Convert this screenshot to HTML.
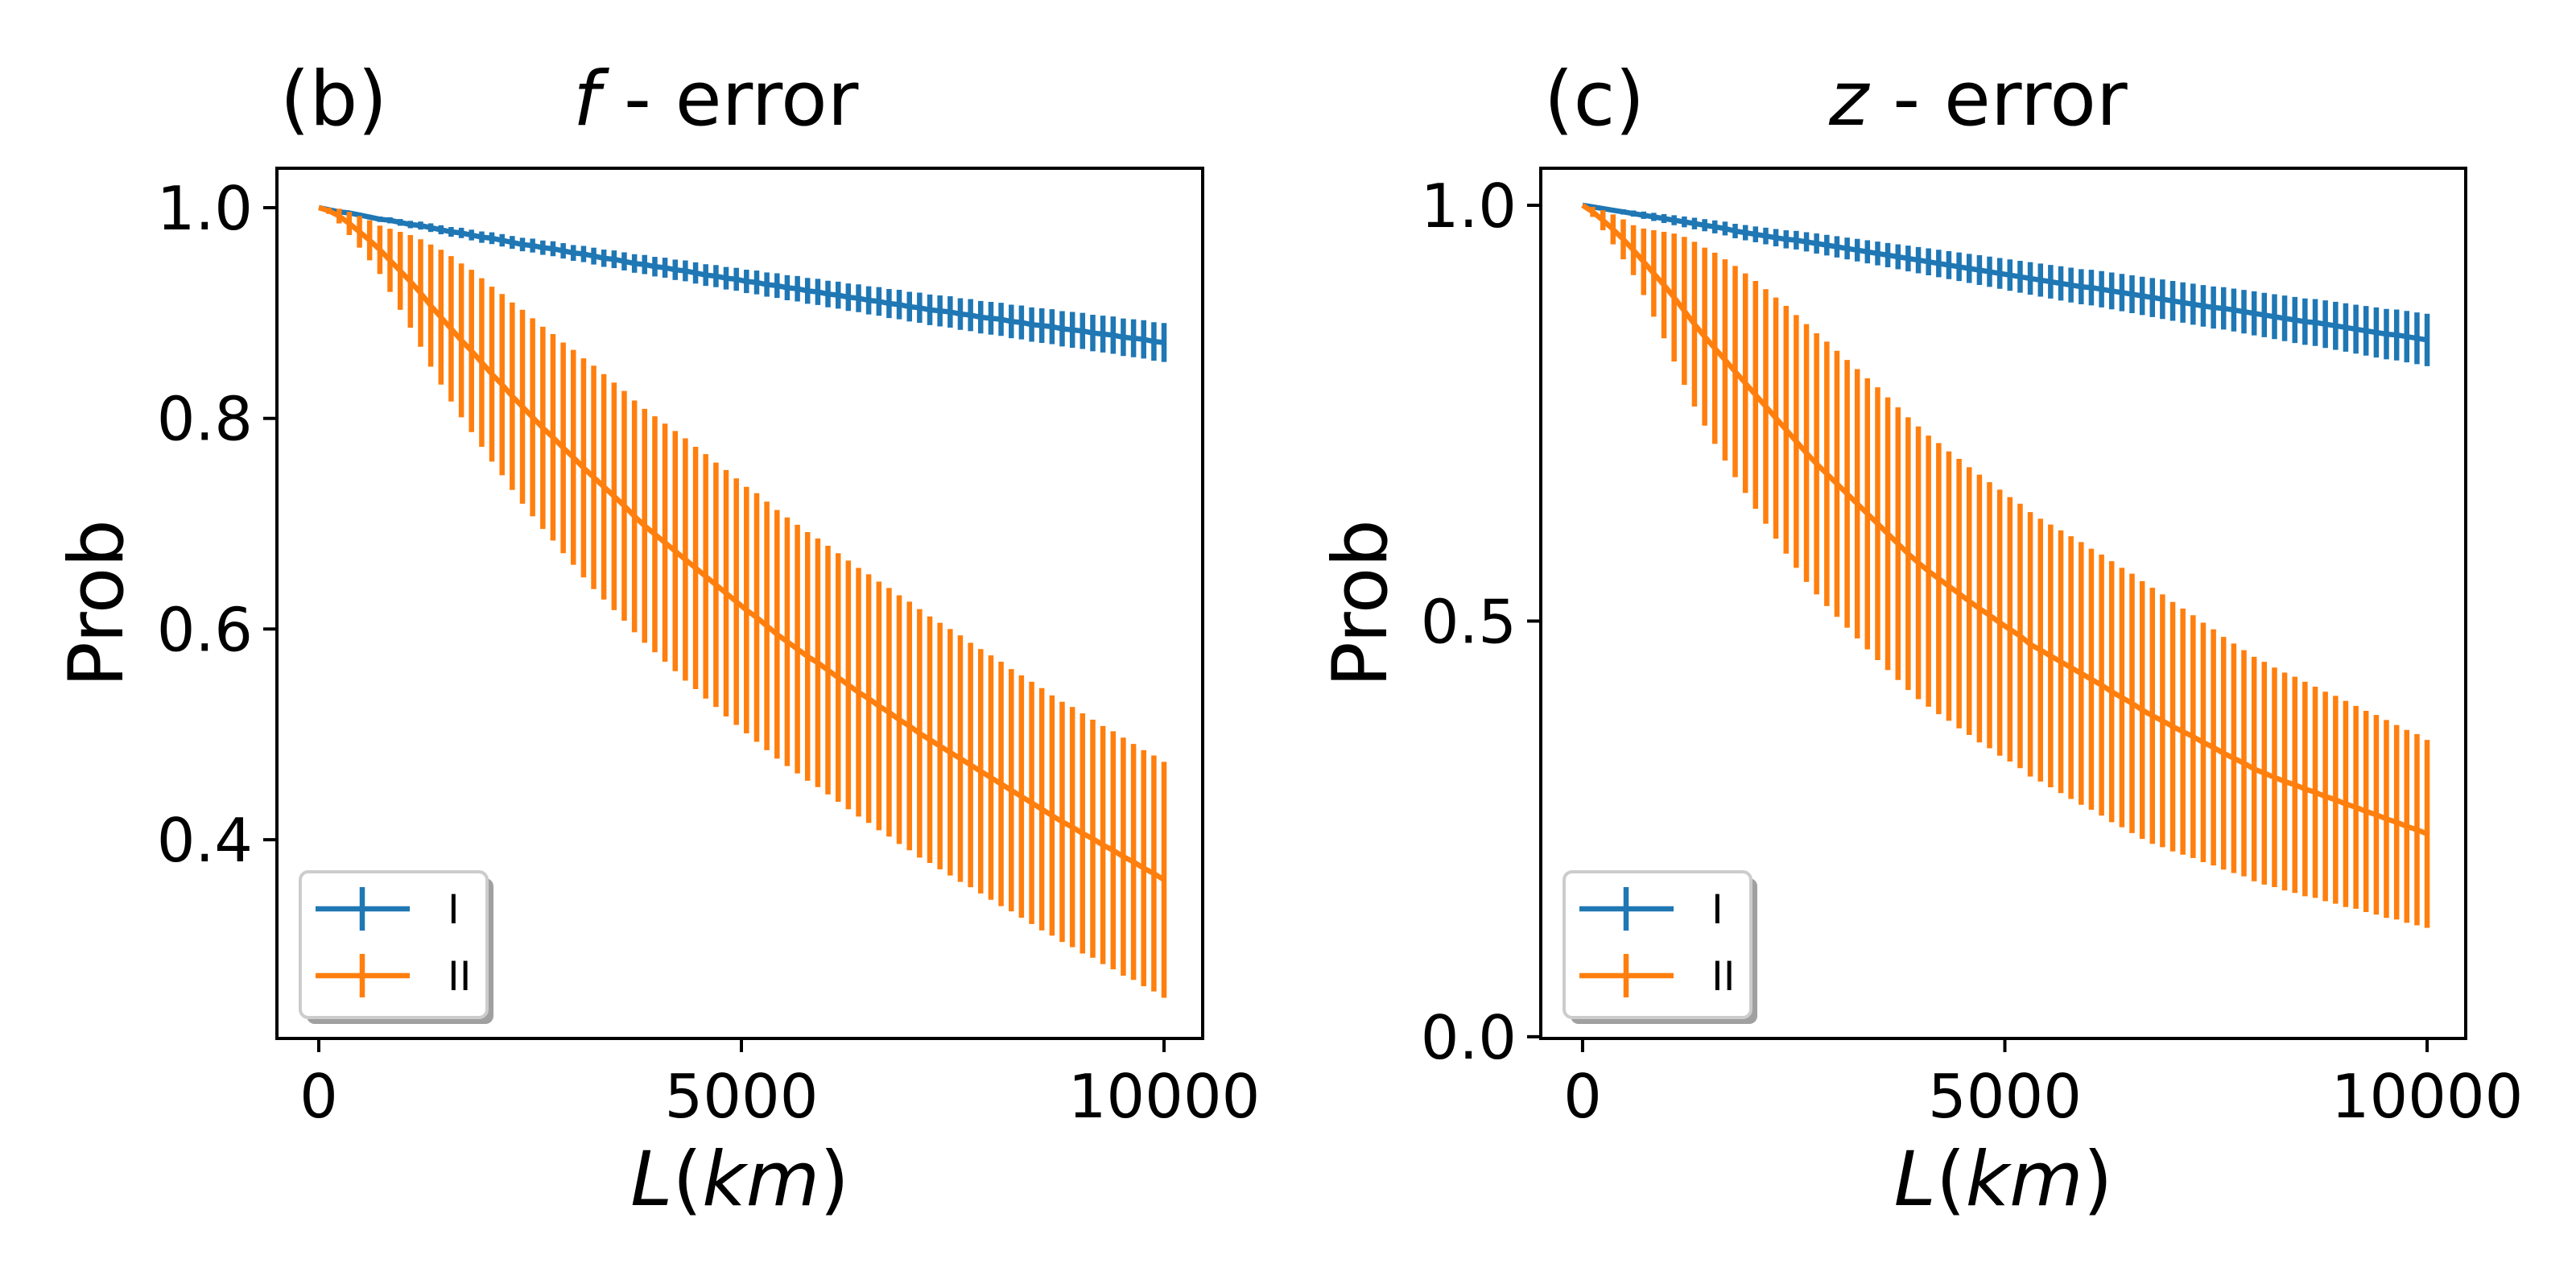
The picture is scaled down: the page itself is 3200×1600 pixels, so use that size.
<!DOCTYPE html>
<html><head><meta charset="utf-8"><style>
html,body{margin:0;padding:0;background:#fff;}
svg{display:block;font-family:"DejaVu Sans","Liberation Sans",sans-serif;}
</style></head><body>
<svg id="fig" width="3200" height="1600" viewBox="0 0 3200 1600" xmlns="http://www.w3.org/2000/svg">
<rect width="3200" height="1600" fill="#fff"/>
</svg>
<script>
const distances = [0,120,241,361,482,602,723,843,964,1084,1205,1325,1446,1566,1687,1807,1928,2048,2169,2289,2410,2530,2651,2771,2892,3012,3133,3253,3373,3494,3614,3735,3855,3976,4096,4217,4337,4458,4578,4699,4819,4940,5060,5181,5301,5422,5542,5663,5783,5904,6024,6145,6265,6386,6506,6627,6747,6867,6988,7108,7229,7349,7470,7590,7711,7831,7952,8072,8193,8313,8434,8554,8675,8795,8916,9036,9157,9277,9398,9518,9639,9759,9880,10000];

const fBlueMean = [1.000,.998,.996,.995,.993,.991,.989,.988,.986,.984,.983,.981,.979,.977,.976,.974,.972,.971,.969,.967,.965,.964,.962,.961,.959,.957,.956,.954,.952,.951,.949,.947,.946,.944,.943,.941,.940,.938,.936,.935,.933,.932,.930,.929,.927,.926,.924,.923,.921,.920,.918,.917,.915,.914,.912,.911,.909,.908,.906,.905,.903,.902,.901,.899,.898,.896,.895,.894,.892,.891,.889,.888,.887,.885,.884,.883,.881,.880,.879,.877,.876,.875,.873,.872];
const fBlueErr = [0,.0007,.0011,.0015,.0019,.0022,.0026,.0029,.0032,.0035,.0038,.0041,.0043,.0046,.0049,.0051,.0054,.0056,.0059,.0061,.0064,.0066,.0068,.0071,.0073,.0075,.0077,.0080,.0082,.0084,.0086,.0088,.0091,.0093,.0095,.0097,.0099,.0101,.0103,.0105,.0107,.0109,.0111,.0113,.0115,.0117,.0119,.0121,.0123,.0124,.0126,.0128,.0130,.0132,.0134,.0136,.0138,.0140,.0141,.0143,.0145,.0147,.0149,.0150,.0152,.0154,.0156,.0157,.0159,.0161,.0163,.0164,.0166,.0168,.0170,.0171,.0173,.0175,.0177,.0178,.0180,.0182,.0183,.0185];
const fOrangeMean = [1.000,.997,.992,.985,.977,.969,.960,.950,.940,.930,.919,.907,.896,.885,.874,.864,.853,.842,.832,.821,.811,.801,.791,.782,.772,.763,.753,.744,.735,.726,.717,.707,.698,.690,.682,.674,.666,.658,.650,.642,.634,.626,.618,.611,.603,.595,.588,.581,.574,.568,.561,.554,.547,.540,.534,.527,.521,.514,.508,.501,.495,.489,.483,.477,.471,.465,.459,.453,.447,.441,.435,.429,.423,.417,.412,.406,.401,.395,.390,.384,.379,.373,.368,.362];
const fOrangeErr = [0,.003,.007,.011,.015,.019,.023,.030,.037,.044,.051,.058,.064,.069,.073,.077,.080,.083,.086,.089,.092,.094,.096,.098,.100,.102,.104,.106,.107,.108,.109,.110,.111,.112,.113,.114,.115,.115,.116,.116,.117,.117,.117,.118,.118,.118,.118,.118,.118,.118,.118,.118,.118,.118,.118,.118,.118,.118,.118,.118,.117,.117,.117,.117,.116,.116,.116,.116,.115,.115,.115,.115,.114,.114,.114,.114,.113,.113,.113,.113,.112,.112,.112,.112];

const zBlueMean = [1.000,.998,.996,.994,.992,.990,.988,.986,.984,.982,.980,.978,.976,.974,.972,.969,.967,.965,.963,.961,.959,.958,.956,.954,.952,.950,.948,.946,.944,.942,.940,.938,.936,.934,.932,.930,.928,.926,.924,.922,.920,.918,.916,.914,.912,.910,.908,.906,.904,.902,.901,.899,.897,.895,.893,.891,.889,.887,.885,.883,.881,.879,.877,.876,.874,.872,.870,.868,.866,.864,.862,.860,.859,.857,.855,.853,.851,.849,.847,.845,.844,.842,.840,.838];
const zBlueErr = [0,.0012,.0019,.0026,.0032,.0037,.0044,.0049,.0054,.0060,.0065,.0070,.0073,.0078,.0083,.0087,.0092,.0095,.0100,.0104,.0109,.0112,.0116,.0121,.0124,.0128,.0131,.0136,.0139,.0143,.0146,.0150,.0155,.0158,.0162,.0165,.0168,.0172,.0175,.0179,.0182,.0185,.0189,.0192,.0196,.0199,.0202,.0206,.0209,.0211,.0214,.0218,.0221,.0224,.0228,.0231,.0235,.0238,.0240,.0243,.0247,.0250,.0253,.0255,.0258,.0262,.0265,.0267,.0270,.0274,.0277,.0279,.0282,.0286,.0289,.0291,.0294,.0298,.0301,.0303,.0306,.0309,.0311,.0315];
const zOrangeMean = [1.000,.992,.982,.971,.959,.946,.932,.918,.904,.889,.873,.857,.842,.828,.814,.800,.786,.772,.758,.744,.730,.716,.702,.689,.677,.665,.653,.641,.629,.617,.605,.593,.581,.570,.560,.551,.542,.533,.524,.515,.507,.498,.490,.482,.472,.465,.458,.451,.444,.437,.430,.423,.415,.408,.401,.393,.386,.380,.373,.367,.361,.354,.348,.341,.335,.329,.322,.317,.312,.307,.303,.298,.294,.289,.285,.280,.276,.271,.267,.262,.258,.253,.249,.244];
const zOrangeErr = [0,.006,.012,.018,.024,.030,.040,.052,.064,.077,.089,.099,.107,.115,.121,.127,.132,.137,.141,.145,.149,.152,.155,.157,.159,.160,.161,.162,.163,.164,.164,.164,.164,.164,.163,.163,.162,.162,.161,.161,.160,.160,.159,.159,.159,.158,.158,.158,.158,.158,.157,.157,.157,.156,.156,.155,.154,.152,.150,.148,.146,.144,.142,.140,.138,.136,.135,.134,.132,.131,.130,.129,.127,.126,.125,.124,.122,.121,.120,.119,.117,.116,.115,.113];

const xTicks = [0, 5000, 10000];
const xTickLabels = ["0", "5000", "10000"];
const fYTicks = [0.4, 0.6, 0.8, 1.0];
const fYTickLabels = ["0.4", "0.6", "0.8", "1.0"];
const zYTicks = [0.0, 0.5, 1.0];
const zYTickLabels = ["0.0", "0.5", "1.0"];
const seriesNames = ["I", "II"];

const NS = "http://www.w3.org/2000/svg";
const svg = document.getElementById("fig");
const BLUE = "#1f77b4", ORANGE = "#ff7f0e";

function mk(tag, attrs, parent) {
  const e = document.createElementNS(NS, tag);
  for (const k in attrs) e.setAttribute(k, attrs[k]);
  (parent || svg).appendChild(e);
  return e;
}

function panel(cfg) {
  const g = mk("g", {});
  
  
  const X = v => cfg.left + (v - cfg.xmin) / (cfg.xmax - cfg.xmin) * (cfg.right - cfg.left);
  const Y = v => cfg.bottom - (v - cfg.ymin) / (cfg.ymax - cfg.ymin) * (cfg.bottom - cfg.top);

  const series = [
    {mean: cfg.blueMean, err: cfg.blueErr, color: BLUE, name: "series-i"},
    {mean: cfg.orangeMean, err: cfg.orangeErr, color: ORANGE, name: "series-ii"}
  ];
  series.forEach(s => {
    const sg = mk("g", {}, g);
    
    
    distances.forEach((d, i) => {
      const bar = mk("line", {x1: X(d), x2: X(d), y1: Y(s.mean[i] + s.err[i]), y2: Y(s.mean[i] - s.err[i]), stroke: s.color, "stroke-width": 6.5}, sg);
      
      
    });
    const pts = distances.map((d, i) => X(d).toFixed(1) + "," + Y(s.mean[i]).toFixed(1)).join(" ");
    const pl = mk("polyline", {points: pts, fill: "none", stroke: s.color, "stroke-width": 6.5, "stroke-linejoin": "round"}, sg);
    
    
  });

  // spines
  const frame = mk("rect", {x: cfg.left, y: cfg.top, width: cfg.right - cfg.left, height: cfg.bottom - cfg.top, fill: "none", stroke: "#000", "stroke-width": 4}, g);
  
  

  xTicks.forEach((t, i) => {
    const tk = mk("line", {x1: X(t), x2: X(t), y1: cfg.bottom, y2: cfg.bottom + 17, stroke: "#000", "stroke-width": 4}, g);
    
    
    const tl = mk("text", {x: X(t), y: 1388, "text-anchor": "middle", "font-size": 75}, g);
    tl.textContent = xTickLabels[i];
    
    
  });
  cfg.yTicks.forEach((t, i) => {
    const tk = mk("line", {x1: cfg.left - 17, x2: cfg.left, y1: Y(t), y2: Y(t), stroke: "#000", "stroke-width": 4}, g);
    
    
    const tl = mk("text", {x: cfg.left - 30, y: Y(t) + 27, "text-anchor": "end", "font-size": 75}, g);
    tl.textContent = cfg.yTickLabels[i];
    
    
  });

  // axis labels
  const xl = mk("text", {x: (cfg.left + cfg.right) / 2, y: 1497, "text-anchor": "middle", "font-size": 94}, g);
  xl.innerHTML = '<tspan font-style="italic">L</tspan>(<tspan font-style="italic">km</tspan>)';
  
  
  const yl = mk("text", {x: 0, y: 0, "text-anchor": "middle", "font-size": 94, transform: `translate(${cfg.ylabelX},${(cfg.top + cfg.bottom) / 2}) rotate(-90)`}, g);
  yl.textContent = "Prob";
  
  

  // title
  const t1 = mk("text", {x: cfg.left + 4, y: 155, "font-size": 94}, g);
  t1.textContent = cfg.tag;
  
  
  const t2 = mk("text", {x: cfg.titleX, y: 155, "font-size": 94}, g);
  t2.innerHTML = '<tspan font-style="italic">' + cfg.sym + '</tspan> - error';
  
  

  // legend
  const lg = mk("g", {}, g);
  
  
  const lx = cfg.left + 29, ly = 1083, lw = 232, lh = 181;
  mk("rect", {x: lx + 8, y: ly + 8, width: lw, height: lh, rx: 10, fill: "#888", "fill-opacity": 0.8}, lg);
  mk("rect", {x: lx, y: ly, width: lw, height: lh, rx: 10, fill: "#fff", stroke: "#ccc", "stroke-width": 4}, lg);
  [BLUE, ORANGE].forEach((c, i) => {
    const ey = ly + 46 + i * 83;
    const en = mk("g", {}, lg);
    
    
    mk("line", {x1: lx + 19, x2: lx + 136, y1: ey, y2: ey, stroke: c, "stroke-width": 6.5}, en);
    mk("line", {x1: lx + 77, x2: lx + 77, y1: ey - 27, y2: ey + 27, stroke: c, "stroke-width": 6.5}, en);
    const tt = mk("text", {x: lx + 183, y: ey + 18, "font-size": 50}, en);
    tt.textContent = seriesNames[i];
  });
}

panel({name: "panel-f-error", left: 344, right: 1494, top: 209, bottom: 1290,
  xmin: -495, xmax: 10457, ymin: 0.2114, ymax: 1.0374,
  yTicks: fYTicks, yTickLabels: fYTickLabels, ylabelX: 152,
  tag: "(b)", sym: "f", titleX: 712,
  blueMean: fBlueMean, blueErr: fBlueErr, orangeMean: fOrangeMean, orangeErr: fOrangeErr});

panel({name: "panel-z-error", left: 1914, right: 3063, top: 209, bottom: 1290,
  xmin: -495, xmax: 10457, ymin: -0.002, ymax: 1.0445,
  yTicks: zYTicks, yTickLabels: zYTickLabels, ylabelX: 1722,
  tag: "(c)", sym: "z", titleX: 2272,
  blueMean: zBlueMean, blueErr: zBlueErr, orangeMean: zOrangeMean, orangeErr: zOrangeErr});
</script>
</body></html>
